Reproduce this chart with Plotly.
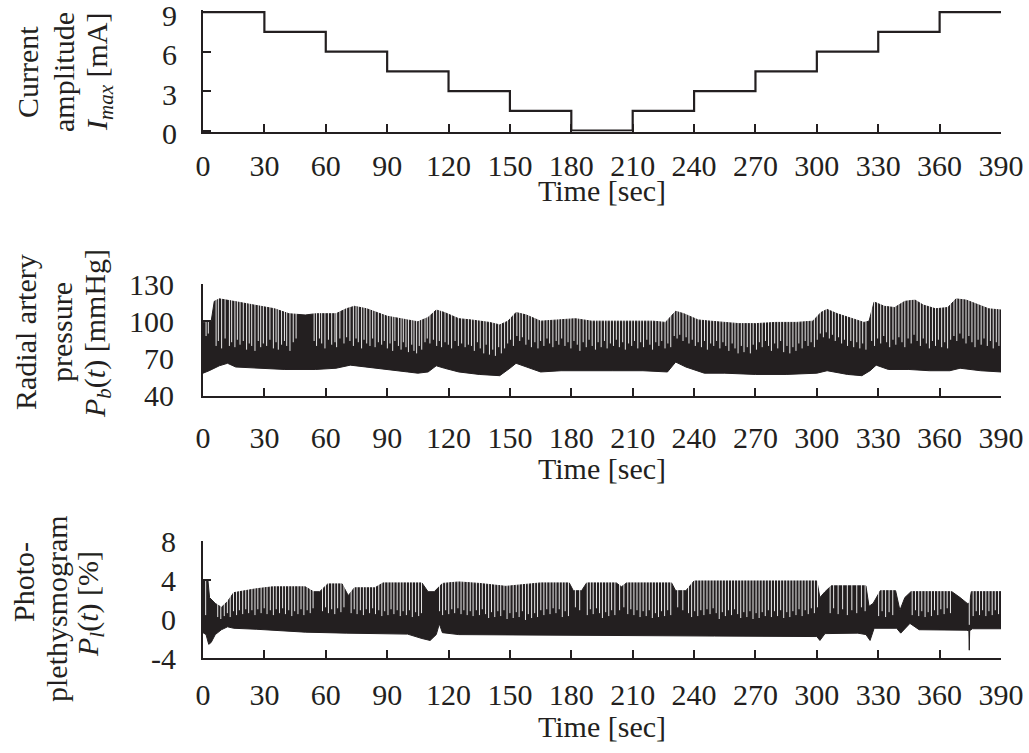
import plotly.graph_objects as go

W, H = 1029, 753
SERIF = "Liberation Serif"
INK = "#231f20"

time_ticks = list(range(0, 391, 30))

# ---- stimulation current, one level per 30 s block (mA) ----
step_start = [0, 30, 60, 90, 120, 150, 180, 210, 240, 270, 300, 330, 360, 390]
step_ma = [9, 7.5, 6, 4.5, 3, 1.5, 0, 1.5, 3, 4.5, 6, 7.5, 9, 9]

# ---- radial artery pressure: systolic / diastolic envelope (s, mmHg) ----
pb_systolic = [(0, 99), (4, 100), (5.5, 116), (8, 118), (15, 116), (25, 113), (35, 110),
               (42, 106), (50, 105), (55, 106), (65, 106), (70, 110), (74, 112), (80, 110),
               (90, 104), (100, 101), (105, 99.5), (110, 103), (114, 109), (118, 107),
               (125, 102), (131, 101), (140, 99), (145, 97), (149, 100), (153, 107),
               (158, 105), (165, 100), (175, 101), (182, 102), (190, 100), (200, 100),
               (210, 100), (220, 100), (226, 99), (229, 104), (231, 108), (235, 106),
               (242, 101), (248, 100), (255, 99), (262, 98), (270, 98), (280, 99),
               (290, 99), (298, 100), (302, 107), (305, 109.5), (310, 106), (318, 102),
               (323, 99), (325.5, 100), (328, 115.5), (333, 112), (338, 111), (343, 116),
               (348, 117), (352, 113), (358, 110), (364, 111), (368, 118), (373, 117),
               (378, 114), (384, 110), (390, 109)]
pb_diastolic = [(0, 58), (3, 60), (8, 64), (12, 66), (16, 63), (25, 62), (40, 61), (55, 61),
                (65, 62), (72, 64.5), (78, 63), (90, 61), (100, 59), (105, 58), (110, 59),
                (114, 64), (118, 62), (125, 59), (135, 57), (145, 56), (150, 62), (153, 66),
                (158, 63), (165, 59), (175, 60), (185, 60), (200, 60), (215, 60), (227, 59),
                (231, 67), (236, 63), (245, 58), (255, 58), (270, 57), (285, 57), (300, 58),
                (305, 60), (315, 57), (322, 56), (326, 60), (329, 64.5), (335, 61),
                (345, 61), (355, 60), (365, 60), (370, 62), (380, 60), (390, 59)]
# light inter-beat gaps: (time, lowest pressure reached by the gap)
pb_gaps = [(1.5, 88), (2.6, 90), (6.4, 80), (7.5, 84), (9.1, 78), (10.8, 86), (12.9, 80),
           (14.0, 83), (15.6, 79), (16.8, 85), (18.1, 81), (19.7, 84), (21.3, 77), (22.6, 82),
           (23.8, 80), (25.4, 76), (27.0, 84), (28.2, 79), (29.5, 82), (31.1, 80), (32.7, 85),
           (34.4, 78), (35.7, 83), (36.8, 77), (38.4, 81), (39.8, 84), (40.9, 80), (42.5, 76),
           (44.1, 83), (45.5, 86),
           (54.3, 84), (55.5, 80), (56.9, 86), (58.0, 82), (59.6, 78), (61.3, 85), (62.9, 81),
           (64.5, 83), (65.3, 79), (66.9, 86), (68.9, 82), (70.2, 87), (71.8, 84), (73.5, 80),
           (74.8, 86), (75.9, 83), (77.5, 78), (78.7, 85), (80.0, 82), (81.6, 80), (82.9, 86),
           (84.1, 79), (85.7, 83), (87.3, 81), (88.6, 84), (90.1, 78), (91.4, 82), (92.7, 76),
           (93.8, 84), (95.5, 80), (96.8, 77), (97.9, 83), (99.2, 79), (100.4, 75), (102.0, 81),
           (103.1, 76), (104.4, 74), (105.7, 80), (106.9, 77), (108.5, 83), (109.6, 86),
           (110.9, 82), (112.6, 85), (114.2, 80), (115.5, 84), (116.6, 79), (118.3, 83),
           (119.9, 81), (121.5, 78), (123.2, 84), (124.8, 80), (126.4, 82), (128.1, 79),
           (129.7, 81),
           (131.2, 80), (132.6, 76), (134.1, 83), (135.5, 78), (137.2, 74), (138.4, 81),
           (140.0, 73), (141.6, 77), (142.9, 72), (144.5, 79), (145.8, 74), (147.4, 78),
           (148.9, 82), (150.3, 85), (151.7, 80), (153.4, 88), (154.8, 84), (156.1, 87),
           (157.8, 81), (159.2, 85), (160.5, 79), (162.2, 83), (163.7, 78), (165.0, 84),
           (166.6, 80), (168.1, 86), (169.4, 82), (171.0, 79), (172.6, 84), (173.9, 81),
           (175.3, 86), (176.9, 80), (178.4, 83), (179.8, 78), (181.3, 84), (182.9, 81),
           (184.2, 76), (185.8, 83), (187.3, 79), (188.7, 85), (190.2, 80), (191.8, 77),
           (193.1, 83), (194.6, 79), (196.2, 84), (197.5, 78), (199.1, 82), (200.6, 80),
           (202.0, 85), (203.5, 79), (205.1, 83), (206.4, 77), (208.0, 82), (209.5, 80),
           (210.9, 84), (212.5, 78), (213.9, 83), (215.3, 79), (216.9, 85), (218.4, 81),
           (219.7, 77), (221.3, 83), (222.8, 80), (224.2, 84), (225.8, 78), (227.2, 82),
           (228.6, 79), (230.3, 88), (231.7, 86), (233.0, 89), (234.6, 84), (236.1, 87),
           (237.5, 82), (239.1, 85), (240.6, 80), (242.0, 83), (243.6, 79), (245.1, 84),
           (246.5, 77), (248.1, 82), (249.6, 80), (251.0, 84), (252.6, 78), (254.1, 83),
           (255.5, 80), (257.0, 76), (258.6, 82), (260.0, 78), (261.5, 74), (263.1, 80),
           (264.4, 75), (266.0, 79), (267.5, 74), (268.9, 81), (270.5, 77), (271.9, 83),
           (273.3, 79), (274.9, 84), (276.4, 80), (277.8, 76), (279.4, 82), (280.9, 78),
           (282.3, 84), (283.8, 75), (285.4, 80), (286.8, 74), (288.3, 79), (289.8, 76),
           (291.2, 82), (292.8, 78), (294.3, 84), (295.7, 80), (297.2, 83), (298.8, 79),
           (300.2, 85), (301.7, 90), (303.2, 87), (304.6, 91), (306.1, 86), (307.6, 89),
           (309.0, 84), (310.6, 87), (312.1, 82), (313.5, 85), (315.0, 80), (316.6, 84),
           (318.0, 79), (319.5, 83), (321.0, 78), (322.4, 82), (324.0, 77), (326.8, 84),
           (328.2, 80), (329.7, 86), (331.2, 82), (332.7, 88), (334.1, 83), (335.6, 79),
           (337.2, 85), (338.6, 81), (340.1, 87), (341.6, 83), (343.0, 79), (344.6, 86),
           (346.1, 82), (347.5, 89), (349.0, 84), (350.6, 80), (352.0, 86), (353.5, 82),
           (355.0, 78), (356.5, 84), (358.0, 80), (359.4, 85), (361.0, 79), (362.5, 83),
           (363.9, 78), (365.4, 85), (367.0, 88), (368.4, 84), (369.9, 90), (371.4, 86),
           (372.9, 82), (374.3, 88), (375.8, 83), (377.3, 79), (378.8, 85), (380.3, 81),
           (381.7, 86), (383.3, 80), (384.8, 84), (386.2, 78), (387.7, 83), (389.0, 80)]

# ---- photoplethysmogram: upper / lower envelope (s, %) ----
pl_upper = [(0, 4.0), (2.4, 4.0), (3.2, 2.2), (6, 1.6), (9, 1.2), (12, 1.8), (15, 2.7),
            (20, 2.9), (26, 3.1), (34, 3.3), (50, 3.3), (54, 2.8), (57, 2.8), (61, 3.6),
            (68, 3.6), (71, 2.4), (74, 3.2), (84, 3.2), (88, 3.7), (107, 3.7), (110, 2.8),
            (113, 2.8), (117, 3.65), (125, 3.8), (135, 3.65), (148, 3.35), (165, 3.7),
            (179, 3.7), (181, 2.9), (185, 2.9), (187.5, 3.7), (202, 3.7), (204.5, 3.3),
            (207, 3.7), (229, 3.7), (231, 2.9), (236, 2.9), (240, 3.9), (262, 3.9),
            (300, 3.9), (301.5, 2.2), (304, 2.8), (307, 3.4), (324, 3.4), (325.5, 1.3),
            (327.5, 1.6), (331, 2.9), (338.5, 2.9), (340.6, 0.9), (343, 2.2), (346, 2.8),
            (366, 2.8), (370, 2.2), (373.5, 1.6), (374.5, 1.6), (375.5, 2.8), (390, 2.8)]
pl_lower = [(0, -1.4), (1.5, -1.6), (2.8, -2.6), (4, -2.4), (6, -1.6), (9, -1.1),
            (12, -0.8), (15, -0.95), (26, -1.05), (50, -1.35), (70, -1.45), (100, -1.55),
            (107, -2.0), (111, -2.2), (114, -1.6), (115.5, -0.5), (117, -1.4), (125, -1.6),
            (150, -1.65), (200, -1.7), (250, -1.75), (300, -1.8), (301.5, -2.2),
            (304, -1.5), (320, -1.45), (324, -1.6), (326, -2.2), (328, -0.95), (339, -0.95),
            (341, -1.45), (345.5, -0.45), (350, -1.1), (373, -1.15), (374.3, -1.2),
            (374.5, -3.2), (374.7, -1.2), (376, -1.0), (390, -1.0)]
pl_gaps = [(1.3, 0.4), (7.2, 0.2), (8.7, 0.0), (10.4, 0.3), (11.9, 0.6), (13.3, 0.2),
           (14.9, 0.8), (16.4, 0.4), (17.8, 0.9), (19.4, 0.5), (20.9, 1.0), (22.3, 0.6),
           (23.9, 0.9), (25.4, 0.4), (26.8, 1.0), (28.4, 0.6), (29.9, 1.1), (31.3, 0.5),
           (32.9, 0.9), (34.4, 0.4), (35.8, 1.0), (37.4, 0.6), (38.9, 1.1), (40.3, 0.5),
           (41.9, 0.9), (43.4, 0.3), (44.8, 0.8), (46.4, 0.5), (47.9, 1.0), (49.3, 0.4),
           (50.9, 0.9), (52.4, 0.6), (53.8, 1.1), (58.4, 0.8), (59.9, 1.2), (61.3, 0.6),
           (62.9, 1.0), (64.4, 0.5), (65.8, 1.1), (67.4, 0.7), (68.9, 1.2), (72.4, 0.6),
           (73.9, 1.0), (75.3, 0.5), (76.9, 0.9), (78.4, 0.4), (79.8, 1.0), (81.4, 0.6),
           (82.9, 1.1), (84.3, 0.5), (85.9, 0.9), (87.4, 0.3), (88.8, 0.8), (90.4, 0.4),
           (91.9, 1.0), (93.3, 0.5), (94.9, 0.9), (96.4, 0.3), (97.8, 0.8), (99.4, 0.4),
           (100.9, 0.9), (102.3, 0.2), (103.9, 0.7), (105.4, 0.3), (106.8, 0.6),
           (115.6, 0.8), (117.1, 0.4), (118.6, 0.9), (120.1, 0.5), (121.6, 1.0),
           (123.0, 0.6), (124.6, 1.1), (126.1, 0.5), (127.5, 0.9), (129.1, 0.4),
           (130.6, 0.8), (132.0, 0.3), (133.6, 0.9), (135.1, 0.4), (136.5, 1.0),
           (138.1, 0.5), (139.6, 0.1), (141.0, 0.7), (142.6, 0.2), (144.1, 0.8),
           (145.5, 0.3), (147.1, 0.9), (148.6, 0.0), (150.0, 0.6), (151.6, 0.1),
           (153.1, 0.7), (154.5, 0.2), (156.1, 0.8), (157.6, -0.1), (159.0, 0.5),
           (160.6, 0.1), (162.1, 0.6), (163.5, 0.2), (165.1, 0.9), (166.6, 0.4),
           (168.0, 1.0), (169.6, 0.5), (171.1, 1.1), (172.5, 0.6), (174.1, 1.0),
           (175.6, 0.2), (177.0, 0.8), (178.6, 0.3), (182.0, 1.2), (184.1, 0.9),
           (187.8, 0.4), (189.3, 1.0), (190.7, 0.5), (192.3, 1.1), (193.8, 0.6),
           (195.2, 0.1), (196.8, 0.7), (198.3, 0.3), (199.7, 0.9), (201.3, 0.4),
           (203.6, 0.9), (205.7, 1.2), (207.6, 0.5), (209.1, 1.0), (210.6, 0.4),
           (212.1, 0.9), (213.6, 0.2), (215.1, 0.8), (216.6, 0.3), (218.1, 0.9),
           (219.6, 0.1), (221.1, 0.6), (222.6, 0.2), (224.1, 0.8), (225.6, 0.3),
           (227.1, 0.9), (228.6, 0.4), (232.0, 1.2), (234.5, 0.9), (237.3, 0.6),
           (238.8, 0.2), (240.3, 0.8), (241.8, 0.3), (243.3, 0.9), (244.8, 0.4),
           (246.3, 1.0), (247.8, 0.5), (249.3, 1.1), (250.8, 0.6), (252.3, 0.0),
           (253.8, 0.7), (255.3, 0.3), (256.8, 0.9), (258.3, 0.4), (259.8, 1.0),
           (261.3, 0.5), (262.8, 0.1), (264.3, 0.7), (265.8, 0.2), (267.3, 0.8),
           (268.8, 0.0), (270.3, 0.6), (271.8, 0.1), (273.3, 0.7), (274.8, 0.3),
           (276.3, 0.9), (277.8, 0.2), (279.3, 0.8), (280.8, 0.3), (282.3, 0.9),
           (283.8, 0.1), (285.3, 0.7), (286.8, 0.2), (288.3, 0.8), (289.8, 0.4),
           (291.3, 1.0), (292.8, 0.3), (294.3, 0.9), (295.8, 0.5), (297.3, 1.1),
           (298.8, 0.6), (300.3, 1.2), (306.5, 0.6), (308.2, 1.1), (310.4, 0.5),
           (312.6, 1.0), (314.9, 0.4), (317.1, 0.9), (319.5, 0.6), (321.8, 1.2),
           (323.6, 0.8), (330.2, 0.3), (331.9, 0.8), (333.6, 0.2), (335.3, 0.7),
           (337.1, 0.4), (346.6, 0.4), (348.2, 0.9), (349.8, 0.3), (351.3, 0.8),
           (352.9, 0.2), (354.4, 0.7), (356.0, 0.3), (357.5, 0.9), (359.1, 0.4),
           (360.6, 1.0), (362.2, 0.5), (363.7, 1.1), (365.3, 0.6), (374.5, -0.6),
           (376.4, 0.3), (377.9, 0.8), (379.5, 0.4), (381.0, 0.9), (382.6, 0.3),
           (384.1, 0.8), (385.7, 0.4), (387.2, 0.9), (388.8, 0.5)]

# axis ranges (current axis dips a hair below 0 so the 0 mA step stays fully visible)
I_RANGE = [-0.08, 9.15]
PB_RANGE = [40, 130]
PL_RANGE = [-4, 8]


def fx(x):
    return x / W


def fy(y):
    return 1 - y / H


def band(upper, lower, xa, ya):
    xs = [t for t, _ in upper] + [t for t, _ in reversed(lower)]
    ys = [v for _, v in upper] + [v for _, v in reversed(lower)]
    return go.Scatter(x=xs, y=ys, mode="lines", fill="toself", fillcolor=INK,
                      line=dict(color=INK, width=1), xaxis=xa, yaxis=ya,
                      hoverinfo="skip", showlegend=False)


def gaps(pairs, top, xa, ya):
    xs, ys = [], []
    for t, v in pairs:
        xs += [t, t, None]
        ys += [v, top, None]
    return go.Scatter(x=xs, y=ys, mode="lines", line=dict(color="white", width=0.9),
                      xaxis=xa, yaxis=ya, hoverinfo="skip", showlegend=False,
                      connectgaps=False)


fig = go.Figure()
fig.add_trace(go.Scatter(x=step_start, y=step_ma, mode="lines",
                         line=dict(color=INK, width=2.2, shape="hv"),
                         xaxis="x", yaxis="y", hoverinfo="skip", showlegend=False))
fig.add_trace(band(pb_systolic, pb_diastolic, "x2", "y2"))
fig.add_trace(gaps(pb_gaps, PB_RANGE[1], "x2", "y2"))
fig.add_trace(band(pl_upper, pl_lower, "x3", "y3"))
fig.add_trace(gaps(pl_gaps, PL_RANGE[1], "x3", "y3"))

tick_font = dict(family=SERIF, size=30, color=INK)
common = dict(showline=True, linecolor=INK, linewidth=2, ticks="inside", ticklen=8,
              tickwidth=2, tickcolor=INK, showgrid=False, zeroline=False,
              tickfont=tick_font, fixedrange=True, automargin=False,
              ticklabeloverflow="allow")
x_dom = [fx(203), fx(1001)]

fig.update_layout(
    template="none",
    width=W, height=H, margin=dict(l=0, r=0, t=0, b=0, pad=0, autoexpand=False),
    paper_bgcolor="white", plot_bgcolor="white", showlegend=False,
    font=dict(family=SERIF, size=30, color=INK),
    xaxis=dict(domain=x_dom, range=[0, 390], tickvals=time_ticks, anchor="y",
               ticklabelstandoff=6, **common),
    yaxis=dict(domain=[fy(131.55), fy(10.2)], range=I_RANGE, tickvals=[0, 3, 6, 9],
               anchor="x", ticklabelstandoff=18, ticklabelshift=3, **common),
    xaxis2=dict(domain=x_dom, range=[0, 390], tickvals=time_ticks, anchor="y2",
                ticklabelstandoff=14, **common),
    yaxis2=dict(domain=[fy(395.5), fy(284)], range=PB_RANGE, tickvals=[40, 70, 100, 130],
                anchor="x2", ticklabelstandoff=21, **common),
    xaxis3=dict(domain=x_dom, range=[0, 390], tickvals=time_ticks, anchor="y3",
                ticklabelstandoff=9, **common),
    yaxis3=dict(domain=[fy(658), fy(541)], range=PL_RANGE, tickvals=[-4, 0, 4, 8],
                ticktext=["-4", "0", "4", "8"], anchor="x3", ticklabelstandoff=19,
                **common),
)

title_font = dict(family=SERIF, size=30, color=INK)
annotations = []

# rotated y-axis titles, one annotation per text line (x centre px, y centre px)
y_titles = [
    ("Current", 27, 72), ("amplitude", 63, 72),
    ("<i>I</i><sub><i>max</i></sub> [mA]", 99, 72),
    ("Radial artery", 25, 332), ("pressure", 61, 332),
    ("<i>P</i><sub><i>b</i></sub>(<i>t</i>) [mmHg]", 97, 334),
    ("Photo-", 23, 582), ("plethysmogram", 56, 609),
    ("<i>P</i><sub><i>l</i></sub>(<i>t</i>) [%]", 90, 604),
]
for text, x, y in y_titles:
    annotations.append(dict(text=text, x=fx(x), y=fy(y), xref="paper", yref="paper",
                            xanchor="center", yanchor="middle", textangle=-90,
                            showarrow=False, font=title_font))

for y in (190, 468, 726):
    annotations.append(dict(text="Time [sec]", x=fx(602), y=fy(y), xref="paper",
                            yref="paper", xanchor="center", yanchor="middle",
                            showarrow=False, font=title_font))

fig.update_layout(annotations=annotations)
fig.write_html("out.html")
